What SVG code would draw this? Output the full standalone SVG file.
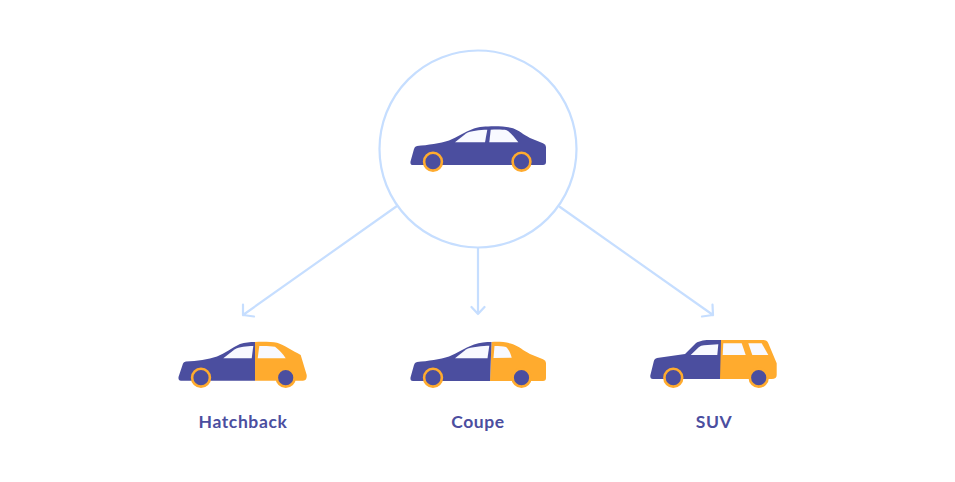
<svg xmlns="http://www.w3.org/2000/svg" width="955" height="482" viewBox="0 0 955 482">
<style>
.n{fill:#4b4e9f}.o{fill:#ffab2e}.w{fill:#f8f9ff}
.wh{fill:#4b4e9f;stroke:#ffab2e;stroke-width:2.600}
.c{fill:none;stroke:#c6deff;stroke-width:2.200;stroke-linecap:round;stroke-linejoin:round}
.t{font-family:"Lato","Liberation Sans",sans-serif;font-size:17.500px;font-weight:700;fill:#4b4e9f;text-anchor:middle;letter-spacing:.6px}
</style>
<rect width="955" height="482" fill="#fff"/>
<g id="connectors">
<path class="c" d="M397 206L243 315M243 304.500L243 315L254 316.500"/>
<path class="c" d="M478 248V314M471.500 307L478 314L484.500 307"/>
<path class="c" d="M560 207L713 315M702 316.500L713 315L712.500 304.500"/>
</g>
<g id="sedan">
<circle cx="478" cy="149" r="98.500" fill="#fff" stroke="#c6deff" stroke-width="2.200"/>
<path class="n" d="M410.500 161.500L414 149Q414.500 146.300 417 146C428 145 440 143.500 449 140.500C457 137.500 465 131.500 474 128.500C482 125.800 504 125.500 513 128.300C519 130.500 523 134.500 530 138L543 143.300Q546 144.500 546 147V162Q546 165 543 165H413Q410 165 410.500 161.500Z"/>
<path class="w" d="M455 142.300L466 133.500C470 130.800 480 129.700 487.300 129.700L485 142.300Z"/>
<path class="w" d="M490.700 129.700C497 129.500 503 129.500 506.700 130.200C510 132 515 138 518.300 142.300H489.300Z"/>
<circle class="wh" cx="433" cy="161.700" r="8.900"/>
<circle class="wh" cx="521.500" cy="161.700" r="8.900"/>
</g>
<g id="hatchback">
<path class="o" d="M255 342C262 341.500 272 341.800 277 342.800C284 345 293 351 300.700 355L306.700 375Q307.300 380.700 303 380.700H255Z"/>
<path class="n" d="M255 342V380.700H181Q178 380.700 178.500 377L183 363.500Q183.500 361.800 186 361.500C197 361 208 359.500 217 356.500C225 353.500 232 347.500 240 344C245 342.500 250 342 255 342Z"/>
<path class="w" d="M223.300 358.300L234.500 349.500C239 346.800 247 346 253.300 346L251.700 358.300Z"/>
<path class="w" d="M259.300 346C265 345.800 271 346 275 346.700C279 349.500 283 354 285.700 358.300H257.700Z"/>
<circle class="wh" cx="201" cy="377.700" r="8.900"/>
<circle class="wh" cx="285.700" cy="377.700" r="8.900"/>
<text class="t" x="243" y="428">Hatchback</text>
</g>
<g id="coupe">
<path class="o" d="M491.500 342C498 341.500 507 342 513 344.300C519 346.500 523 350.500 530 354L543 359.300Q546 360.500 546 363V378Q546 381 543 381H490Z"/>
<path class="n" d="M491.500 342L490 381H413Q410 381 410.500 377.500L414 365Q414.500 362.300 417 362C428 361 440 359.500 449 356.500C457 353.500 465 347.500 474 344.500C480 342.500 486 342 491.500 342Z"/>
<path class="w" d="M455 358.300L466 349.500C470 346.800 484 345.700 489.300 345.700L487.500 358.300Z"/>
<path class="w" d="M494.500 346C499 346 503 346.300 506 347C508.500 349 510.500 353 511.700 357.700L493.500 358Z"/>
<circle class="wh" cx="433" cy="377.700" r="8.900"/>
<circle class="wh" cx="521.500" cy="377.700" r="8.900"/>
<text class="t" x="478" y="428">Coupe</text>
</g>
<g id="suv">
<path class="o" d="M720 340H763.300Q767 340 768.300 343.300L776.700 363.300V375Q776.700 379 771.700 379H720Z"/>
<path class="n" d="M721 340L720 379H653Q650 379 650.300 375.500L654 360.500Q654.500 358.500 657 358L685 354L695.500 343.500Q698 341 706.700 340Z"/>
<path class="w" d="M690.700 355L699 347Q701 345.500 704 345.300L718.300 344.300L717.300 355Z"/>
<path class="w" d="M723.300 343.300H741.700L745.700 355H722.700Z"/>
<path class="w" d="M748.300 343.300H761.700L768.300 355H752.300Z"/>
<circle class="wh" cx="673.300" cy="377.700" r="8.900"/>
<circle class="wh" cx="758.700" cy="377.700" r="8.900"/>
<text class="t" x="714" y="428">SUV</text>
</g>
</svg>
